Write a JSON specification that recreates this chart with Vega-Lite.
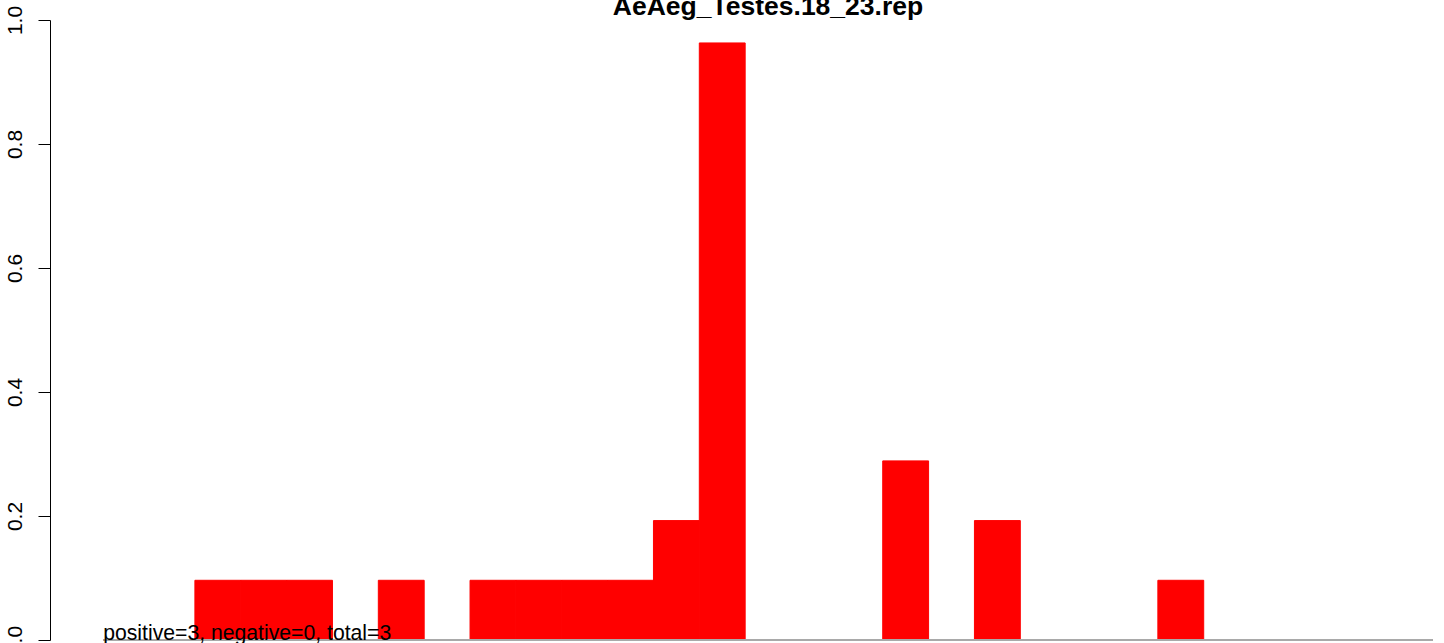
{
  "$schema": "https://vega.github.io/schema/vega-lite/v6.json",
  "width": 1394,
  "height": 620,
  "autosize": {"type": "none"},
  "padding": {"left": 50, "top": 20, "right": 0, "bottom": 3},
  "background": "white",
  "title": {"text": "AeAeg_Testes.18_23.rep", "font": "Liberation Sans", "fontSize": 26.5, "fontWeight": "bold", "color": "black", "anchor": "middle", "frame": "group", "baseline": "alphabetic", "offset": 4, "dx": 21, "dy": 40},
  "config": {"view": {"stroke": null}},
  "data": {"values": [
    {"bin_start": 0, "bin_end": 1, "value": 0},
    {"bin_start": 1, "bin_end": 2, "value": 0},
    {"bin_start": 2, "bin_end": 3, "value": 0.0963},
    {"bin_start": 3, "bin_end": 4, "value": 0.0963},
    {"bin_start": 4, "bin_end": 5, "value": 0.0963},
    {"bin_start": 5, "bin_end": 6, "value": 0},
    {"bin_start": 6, "bin_end": 7, "value": 0.0963},
    {"bin_start": 7, "bin_end": 8, "value": 0},
    {"bin_start": 8, "bin_end": 9, "value": 0.0963},
    {"bin_start": 9, "bin_end": 10, "value": 0.0963},
    {"bin_start": 10, "bin_end": 11, "value": 0.0963},
    {"bin_start": 11, "bin_end": 12, "value": 0.0963},
    {"bin_start": 12, "bin_end": 13, "value": 0.1926},
    {"bin_start": 13, "bin_end": 14, "value": 0.963},
    {"bin_start": 14, "bin_end": 15, "value": 0},
    {"bin_start": 15, "bin_end": 16, "value": 0},
    {"bin_start": 16, "bin_end": 17, "value": 0},
    {"bin_start": 17, "bin_end": 18, "value": 0.2889},
    {"bin_start": 18, "bin_end": 19, "value": 0},
    {"bin_start": 19, "bin_end": 20, "value": 0.1926},
    {"bin_start": 20, "bin_end": 21, "value": 0},
    {"bin_start": 21, "bin_end": 22, "value": 0},
    {"bin_start": 22, "bin_end": 23, "value": 0},
    {"bin_start": 23, "bin_end": 24, "value": 0.0963},
    {"bin_start": 24, "bin_end": 25, "value": 0},
    {"bin_start": 25, "bin_end": 26, "value": 0},
    {"bin_start": 26, "bin_end": 27, "value": 0},
    {"bin_start": 27, "bin_end": 28, "value": 0},
    {"bin_start": 28, "bin_end": 29, "value": 0}
  ]},
  "layer": [
    {
      "mark": {"type": "rect", "color": "#FF0000", "stroke": "#FF0000", "strokeWidth": 1},
      "encoding": {
        "x": {"field": "bin_start", "type": "quantitative", "scale": {"domain": [-1.16, 29.24], "nice": false, "zero": false}, "axis": null},
        "x2": {"field": "bin_end"},
        "y": {"field": "value", "type": "quantitative", "scale": {"domain": [0, 1], "nice": false},
          "axis": {"values": [0, 0.2, 0.4, 0.6, 0.8, 1], "format": ".1f", "labelAngle": 270, "labelAlign": "center", "labelBaseline": "bottom", "labelPadding": 13, "tickSize": 12, "tickColor": "black", "domainColor": "black", "labelColor": "black", "labelFont": "Liberation Sans", "labelFontSize": 21, "grid": false, "title": null, "labelOverlap": false, "labelBound": false, "labelFlush": false, "domainWidth": 1, "tickWidth": 1}},
        "y2": {"datum": 0}
      }
    },
    {
      "data": {"values": [{"from": 0, "to": 29, "level": 0}]},
      "mark": {"type": "rule", "color": "#A9A9A9", "strokeWidth": 2},
      "encoding": {
        "x": {"field": "from", "type": "quantitative"},
        "x2": {"field": "to"},
        "y": {"field": "level", "type": "quantitative"}
      }
    },
    {
      "data": {"values": [{"pos": 0, "level": 0, "label": "positive=3, negative=0, total=3"}]},
      "mark": {"type": "text", "align": "left", "baseline": "alphabetic", "font": "Liberation Sans", "fontSize": 21.2, "color": "black"},
      "encoding": {
        "x": {"field": "pos", "type": "quantitative"},
        "y": {"field": "level", "type": "quantitative"},
        "text": {"field": "label"}
      }
    }
  ]
}
